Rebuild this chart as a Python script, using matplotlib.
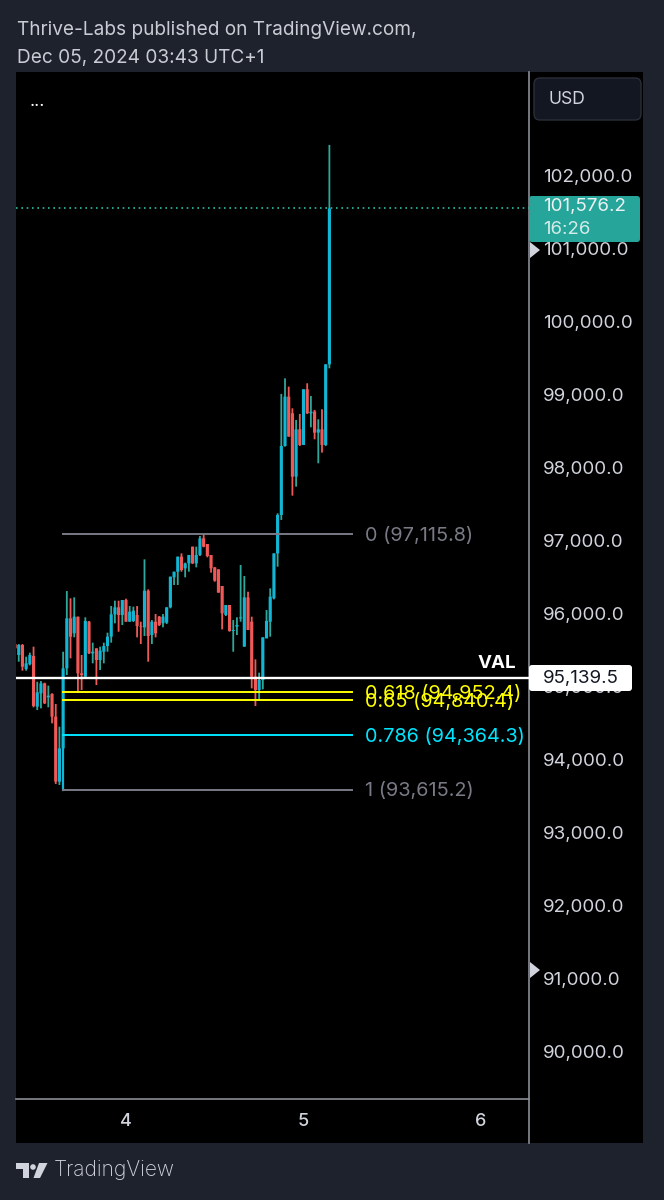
import matplotlib
matplotlib.use('Agg')
import matplotlib.pyplot as plt
from matplotlib.patches import FancyBboxPatch, Polygon, Circle, Rectangle
from matplotlib.transforms import ScaledTranslation

# 30 minute candles, index 0 is the candle at 03:00 on day 5 minus one bar
first_index = -78
opens = [95609, 95459, 95596, 95267, 95331, 95445, 94751, 94934, 95071, 94879, 94925, 94614, 93724, 94180, 95276,
         95961, 95756, 95984, 95208, 95162, 95915, 95482, 95550, 95390, 95504, 95582, 95710, 96016, 96112, 96007,
         96212, 95915, 95925, 96007, 95856, 95838, 96340, 95733, 95915, 95984, 95893, 95902, 96112, 96523, 96600,
         96806, 96646, 96714, 96943, 96714, 96829, 97057, 96979, 96829, 96660, 96632, 96404, 96007, 96144, 95788,
         95847, 95961, 95573, 96249, 95915, 95162, 94979, 95116, 95687, 95915, 96235, 96851, 97377, 98322, 98998,
         98770, 97902, 98551, 98336, 99099, 98770, 98793, 98505, 98551, 98336, 99441]
highs = [95710, 95609, 95609, 95436, 95491, 95573, 95093, 95103, 95080, 95039, 94934, 94788, 94477, 95504, 96335,
         96235, 96249, 95984, 95459, 95975, 95925, 95628, 95550, 95573, 95628, 95765, 96130, 96203, 96203, 96212,
         96230, 96130, 96121, 96130, 95915, 96769, 96358, 95938, 96020, 95993, 96020, 96112, 96532, 96600, 96806,
         96851, 96724, 96829, 96943, 96943, 97089, 97116, 96979, 96829, 96660, 96632, 96404, 96144, 96144, 95938,
         95975, 96692, 96541, 96326, 95984, 95399, 95217, 95701, 96075, 96372, 96851, 97400, 99035, 99249, 99135,
         98838, 98679, 98761, 99099, 99181, 99007, 98816, 98688, 98825, 99441, 102446]
lows = [95527, 95367, 95244, 95244, 95317, 94742, 94705, 94728, 94788, 94742, 94523, 93692, 93678, 94112, 95185,
        95413, 95701, 94957, 94979, 95162, 95472, 95345, 95048, 95253, 95345, 95504, 95628, 95893, 95778, 95870,
        95915, 95915, 95911, 95701, 95609, 95719, 95367, 95609, 95701, 95856, 95838, 95883, 96098, 96418, 96418,
        96600, 96523, 96600, 96705, 96660, 96815, 96934, 96797, 96587, 96463, 96313, 95810, 95993, 95778, 95504,
        95733, 95915, 95573, 95801, 95002, 94760, 94833, 94988, 95687, 95710, 96221, 96669, 97309, 98313, 98450,
        97642, 97765, 98322, 98336, 98761, 98578, 98414, 98085, 98231, 98322, 99386]
closes = [95550, 95596, 95299, 95345, 95459, 94760, 94947, 95071, 94797, 94902, 94614, 93724, 94180, 95276, 95961,
          95710, 95984, 95208, 95185, 95925, 95482, 95504, 95390, 95518, 95582, 95710, 96016, 96112, 96007, 96212,
          95915, 96052, 96066, 95856, 95847, 96340, 95719, 95915, 95756, 95870, 95984, 96112, 96532, 96600, 96806,
          96623, 96714, 96829, 96714, 96829, 97057, 96943, 96815, 96646, 96477, 96313, 96030, 96144, 95788, 95801,
          95870, 95975, 96249, 95801, 95162, 94979, 95116, 95701, 95925, 96258, 96851, 97377, 98322, 98998, 98450,
          97902, 98551, 98336, 99099, 98770, 98793, 98505, 98551, 98336, 99441, 101576.2]

price_ticks = [90000, 91000, 92000, 93000, 94000, 95000, 96000, 97000, 98000, 99000, 100000, 101000, 102000]
day_ticks = [-48, 0, 48]
day_labels = ['4', '5', '6']

fib_start = -65
fib_end = 13
fib_levels = [97115.8, 94952.4, 94840.4, 94364.3, 93615.2]
fib_names = ['0', '0.618', '0.65', '0.786', '1']
fib_colors = ['#787b86', '#ffff00', '#ffff00', '#00e5ff', '#787b86']

val_price = 95139.5
last_price = 101576.2

W, H = 664, 1200
UP = '#12b5d3'
UP_WICK = '#2fa89c'
DOWN = '#ef5a58'
GREY = '#787b86'
TEXT = '#d1d4dc'
font = 'Inter'


def box(x0, y0, x1, y1):
    return [x0 / W, 1 - y1 / H, (x1 - x0) / W, (y1 - y0) / H]


fig = plt.figure(figsize=(W / 100, H / 100), dpi=100, facecolor='#1e222d')

# black panel behind the plot and the price scale
panel = fig.add_axes([0, 0, 1, 1], zorder=0)
panel.set_xlim(0, W)
panel.set_ylim(H, 0)
panel.axis('off')
panel.add_patch(Rectangle((16, 72), 627, 1071, fc='black', ec='none'))
panel.plot([529, 529], [72, 1143], color='#8a8d96', lw=1.2)

# main chart
ax = fig.add_axes(box(16, 72, 529, 1099), zorder=1)
ax.set_facecolor('none')
ax.set_xlim((16 - 303.5) / 3.698, (529 - 303.5) / 3.698)
ax.set_ylim(102000 - (1099 - 177.5) / 0.073, 102000 + (177.5 - 72) / 0.073)

xs = [first_index + i for i in range(len(opens))]
for x, o, h, l, c in zip(xs, opens, highs, lows, closes):
    up = c >= o
    wick = ax.vlines(x, l, h, color=UP_WICK if up else DOWN, lw=1.3, zorder=2)
    wick.set_snap(False)
    bars = ax.bar(x, abs(c - o), bottom=min(o, c), width=0.85, color=UP if up else DOWN, lw=0, zorder=3)
    bars[0].set_snap(False)

# fib tool
ax.plot([fib_start, fib_start], [fib_levels[3], fib_levels[4]], color='#12b5d3', lw=1.6, zorder=4)
for level, name, color in zip(fib_levels, fib_names, fib_colors):
    ax.plot([fib_start, fib_end], [level, level], color=color, lw=1.4, zorder=5)
    ax.text(fib_end + 3.5, level - 25, f'{name} ({level:,.1f})', color=color, fontsize=14.3, family=font,
            va='center', ha='left', zorder=6)

ax.axhline(val_price, color='white', lw=1.7, zorder=6)
ax.text(516, 663, 'VAL', color='white', fontsize=13.5, fontweight='bold', family=font, ha='right', va='center',
        transform=panel.transData, zorder=7)
ax.axhline(last_price, color='#2fb8a6', lw=1.2, ls=(0, (1, 2.2)), zorder=2)

ax.set_xticks(day_ticks)
ax.set_xticklabels(day_labels, fontsize=13, color=TEXT, family=font, fontweight='medium')
ax.tick_params(axis='x', length=0, pad=10)
ax.yaxis.tick_right()
ax.set_yticks(price_ticks)
ax.set_yticklabels([f'{p:,.1f}' for p in price_ticks], fontsize=13.5, color=TEXT, family=font)
ax.tick_params(axis='y', length=0, pad=10)
lift = ScaledTranslation(0, 2 / 100, fig.dpi_scale_trans)
for label in ax.get_yticklabels():
    label.set_transform(label.get_transform() + lift)
for side in ['top', 'left', 'right']:
    ax.spines[side].set_visible(False)
ax.spines['bottom'].set_color('#8a8d96')
ax.spines['bottom'].set_linewidth(1.2)

# everything around the chart, in pixel coordinates
top = fig.add_axes([0, 0, 1, 1], zorder=2)
top.set_xlim(0, W)
top.set_ylim(H, 0)
top.axis('off')
top.set_facecolor('none')
top.text(17, 30, 'Thrive-Labs published on TradingView.com,', color='#c9ccd3', fontsize=13.7, family=font, va='center')
top.text(17, 58, 'Dec 05, 2024 03:43 UTC+1', color='#c9ccd3', fontsize=13.7, family=font, va='center')
top.text(37, 102, '...', color='white', fontsize=13, family=font, ha='center', va='center')

top.add_patch(FancyBboxPatch((534, 78), 107, 42, boxstyle='round,pad=0,rounding_size=6', fc='#131722', ec='#2a2e39', lw=1))
top.text(549, 99.5, 'USD', color=TEXT, fontsize=12.6, family=font, va='center')

top.add_patch(FancyBboxPatch((529, 196), 111, 46, boxstyle='round,pad=0,rounding_size=3', fc='#26a69a', ec='none'))
top.text(543, 207, f'{last_price:,.1f}', color='#eef2f2', fontsize=13.5, family=font, va='center')
top.text(543, 229, '16:26', color='#d5ece9', fontsize=13.4, family=font, va='center')

top.add_patch(FancyBboxPatch((529, 665), 103, 26, boxstyle='round,pad=0,rounding_size=3', fc='white', ec='none'))
top.text(543, 678, f'{val_price:,.1f}', color='#131722', fontsize=13.5, family=font, va='center')

for ty in [250, 970]:
    top.add_patch(Polygon([(530, ty - 8), (540, ty), (530, ty + 8)], fc='#d1d4dc', ec='none'))

# TradingView logo
top.add_patch(Polygon([(16, 1163), (29, 1163), (29, 1178), (23, 1178), (23, 1169), (16, 1169)], fc='#d1d4dc', ec='none'))
top.add_patch(Circle((33, 1167), 2.8, fc='#d1d4dc', ec='none'))
top.add_patch(Polygon([(39, 1163), (47.5, 1163), (40, 1178), (33.5, 1178)], fc='#d1d4dc', ec='none'))
top.text(54, 1170, 'TradingView', color='#d1d4dc', fontsize=15.1, family=font, fontweight='light', va='center')

fig.savefig('out.png', dpi=100, facecolor=fig.get_facecolor())
